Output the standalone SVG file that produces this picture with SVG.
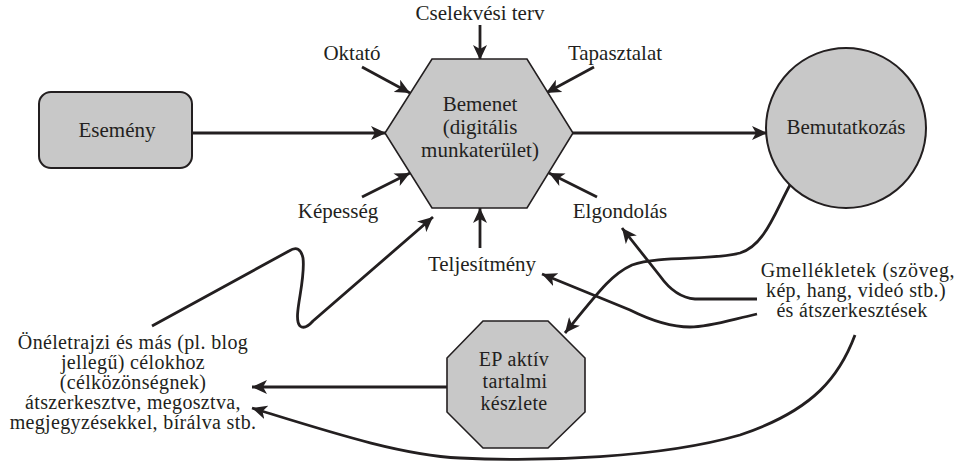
<svg xmlns="http://www.w3.org/2000/svg" width="958" height="462" viewBox="0 0 958 462">
<style>
text{font-family:"Liberation Serif","Times New Roman",serif;font-size:21px;fill:#231f20;text-anchor:middle}
.ml{font-size:20px;letter-spacing:0.35px}
.shape{fill:#c8c8c8;stroke:#231f20;stroke-width:1.6}
.c{fill:none;stroke:#231f20;stroke-width:2.8;marker-end:url(#ah)}
</style>
<defs>
<marker id="ah" markerUnits="userSpaceOnUse" markerWidth="16" markerHeight="14" refX="15" refY="7" orient="auto">
<path d="M0,0 L15,7 L0,14 L4,7 z" fill="#231f20"/>
</marker>
</defs>
<rect width="958" height="462" fill="#ffffff"/>
<g id="connectors">
<path class="c" d="M192,133 H386"/>
<path class="c" d="M573,133 H767"/>
<path class="c" d="M480,25 V60"/>
<path class="c" d="M362,67 L410,93"/>
<path class="c" d="M594,67 L546,93"/>
<path class="c" d="M362,197 L410,173"/>
<path class="c" d="M597,197 L549,173"/>
<path class="c" d="M480,248 V208"/>
<path class="c" d="M152,326 L289,251 Q300,244 303,258 C306,282 292,318 300,326 Q305,330 313,321 L433,217"/>
<path class="c" d="M790,185 C775,212 765,245 740,253 C712,261 660,255 632,265 C612,274 600,290 565,333"/>
<path class="c" d="M757,299 L695,299 C681,298 670,290 660,276 L622,228"/>
<path class="c" d="M757,314 C730,320 710,327 690,327 C670,327 650,320 630,310 L542,274"/>
<path class="c" d="M855,335 C840,375 815,410 740,435 C660,458 540,462 460,458 C400,455 330,432 252,408"/>
<path class="c" d="M448,387 H252"/>
</g>
<g id="esemeny">
<rect class="shape" x="39" y="92" width="153" height="76" rx="12" ry="12" style="stroke-width:2"/>
<text x="117" y="137">Esemény</text>
</g>
<g id="bemenet">
<polygon class="shape" points="432,59 527,59 573,133 527,208 432,208 385,133"/>
<text x="480" y="111">Bemenet</text>
<text x="480" y="134">(digitális</text>
<text x="480" y="157">munkaterület)</text>
</g>
<g id="bemutatkozas">
<circle class="shape" cx="846" cy="128" r="80" style="stroke-width:2"/>
<text x="846" y="134">Bemutatkozás</text>
</g>
<g id="ep">
<polygon class="shape" points="483,321 548,321 585,358 585,412 548,448 483,448 447,412 447,358"/>
<text class="ml" x="514" y="366">EP aktív</text>
<text class="ml" x="515" y="388">tartalmi</text>
<text class="ml" x="514" y="410">készlete</text>
</g>
<g id="labels">
<text x="480" y="20">Cselekvési terv</text>
<text x="352" y="60">Oktató</text>
<text x="615" y="60">Tapasztalat</text>
<text x="338" y="218">Képesség</text>
<text x="620" y="218">Elgondolás</text>
<text x="482" y="271">Teljesítmény</text>
</g>
<g id="gmellekletek">
<text class="ml" x="858" y="277" style="letter-spacing:0.7px">Gmellékletek (szöveg,</text>
<text class="ml" x="856" y="297">kép, hang, videó stb.)</text>
<text class="ml" x="852" y="317">és átszerkesztések</text>
</g>
<g id="oneletrajzi">
<text class="ml" x="133" y="349">Önéletrajzi és más (pl. blog</text>
<text class="ml" x="133" y="369">jellegű) célokhoz</text>
<text class="ml" x="133" y="389">(célközönségnek)</text>
<text class="ml" x="133" y="409">átszerkesztve, megosztva,</text>
<text class="ml" x="133" y="429">megjegyzésekkel, bírálva stb.</text>
</g>
</svg>
